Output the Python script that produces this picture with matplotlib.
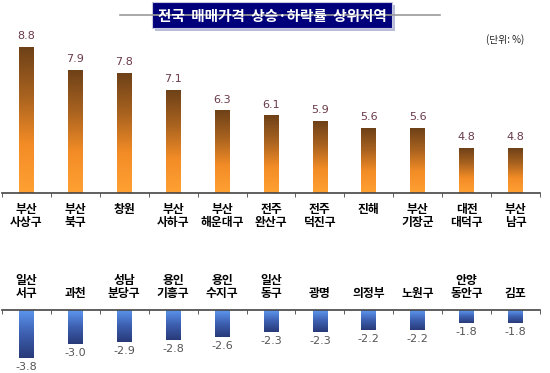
import matplotlib
matplotlib.use("Agg")
import matplotlib.pyplot as plt
import numpy as np
from matplotlib.colors import LinearSegmentedColormap
from matplotlib.patches import Rectangle

plt.rcParams['font.family'] = ['Noto Sans CJK KR', 'DejaVu Sans']

############### Data ################
up_regions = ["부산\n사상구", "부산\n북구", "창원", "부산\n사하구", "부산\n해운대구", "전주\n완산구",
              "전주\n덕진구", "진해", "부산\n기장군", "대전\n대덕구", "부산\n남구"]
up_values = [8.8, 7.9, 7.8, 7.1, 6.3, 6.1, 5.9, 5.6, 5.6, 4.8, 4.8]

down_regions = ["일산\n서구", "과천", "성남\n분당구", "용인\n기흥구", "용인\n수지구", "일산\n동구",
                "광명", "의정부", "노원구", "안양\n동안구", "김포"]
down_values = [-3.8, -3.0, -2.9, -2.8, -2.6, -2.3, -2.3, -2.2, -2.2, -1.8, -1.8]

brown_cmap = LinearSegmentedColormap.from_list("brown", ["#ffa133", "#f38c26", "#a8621f", "#6e4118"])
blue_cmap = LinearSegmentedColormap.from_list("blue", ["#283a78", "#3d5fb0", "#5d98f0"])


def gradient_bars(ax, bars, cmap):
    grad = np.linspace(0, 1, 256).reshape(-1, 1)
    lo, hi = ax.get_ylim()
    for b in bars:
        x0, y0 = b.get_x(), b.get_y()
        w, h = b.get_width(), b.get_height()
        ylo = max(min(y0, y0 + h), lo)
        yhi = min(max(y0, y0 + h), hi)
        ax.imshow(grad, cmap=cmap, aspect='auto', origin='lower',
                  extent=(x0, x0 + w, ylo, yhi), zorder=2)
        b.set_visible(False)


fig = plt.figure(figsize=(5.5, 3.73), dpi=100)

############### Title ################
fig.add_artist(plt.Line2D([120/550, 440/550], [1 - 15/373, 1 - 15/373],
                          color='#9a9a9a', lw=1.2, transform=fig.transFigure))
fig.add_artist(Rectangle((155/550, 1 - 31/373), 240/550, 26/373, transform=fig.transFigure,
                         facecolor='#b8bcd8', edgecolor='none'))
fig.add_artist(Rectangle((152/550, 1 - 28/373), 240/550, 26/373, transform=fig.transFigure,
                         facecolor='#00007a', edgecolor='#c8c8e0', lw=0.8))
fig.text(272/550, 1 - 15.5/373, "전국  매매가격  상승·하락률  상위지역", color='white',
         fontsize=10.5, fontweight='bold', ha='center', va='center')
fig.text(505/550, 1 - 40/373, "(단위: %)", fontsize=7, ha='center', va='center', color='#222222')

x = np.arange(len(up_regions))

############### Top chart ################
ax1 = fig.add_axes([2/550, 0.4826, 538/550, 0.4705])
bars1 = ax1.bar(x, up_values, width=0.3, bottom=0, edgecolor='none')
ax1.set_ylim(3.05, 10)
ax1.set_xlim(-0.5, len(up_regions) - 0.5)
gradient_bars(ax1, bars1, brown_cmap)
for xi, v in zip(x, up_values):
    ax1.text(xi, v + 0.25, f"{v:.1f}", ha='center', va='bottom', fontsize=8,
             color='#6a3a48', family='DejaVu Sans')
ax1.set_xticks(x, up_regions, fontsize=8.5, fontweight='bold', linespacing=1.05)
ax1.set_xticks(np.arange(len(up_regions) + 1) - 0.5, minor=True)
ax1.tick_params(axis='x', which='major', length=0, pad=7)
ax1.tick_params(axis='x', which='minor', length=3, direction='out', color='#444444')
ax1.set_yticks([])
for s in ['top', 'left', 'right']:
    ax1.spines[s].set_visible(False)
ax1.spines['bottom'].set_color('#444444')
ax1.spines['bottom'].set_linewidth(1.2)
ax1.spines['bottom'].set_zorder(3)

############### Bottom chart ################
ax2 = fig.add_axes([2/550, 0.0214, 538/550, 0.1475])
bars2 = ax2.bar(x, down_values, width=0.3, bottom=0, edgecolor='none')
ax2.set_ylim(-4.2, -1.06)
ax2.set_xlim(-0.5, len(down_regions) - 0.5)
gradient_bars(ax2, bars2, blue_cmap)
for xi, v in zip(x, down_values):
    ax2.text(xi, v - 0.22, f"{v:.1f}", ha='center', va='top', fontsize=8,
             color='#555555', family='DejaVu Sans', clip_on=False)
ax2.xaxis.tick_top()
ax2.set_xticks(x, down_regions, fontsize=8.5, fontweight='bold', linespacing=1.05)
ax2.set_xticks(np.arange(len(down_regions) + 1) - 0.5, minor=True)
ax2.tick_params(axis='x', which='major', length=0, pad=7)
ax2.tick_params(axis='x', which='minor', length=3, direction='in', color='#444444')
ax2.set_yticks([])
for s in ['bottom', 'left', 'right']:
    ax2.spines[s].set_visible(False)
ax2.spines['top'].set_color('#444444')
ax2.spines['top'].set_linewidth(1.2)
ax2.spines['top'].set_zorder(3)

fig.savefig("out.png", dpi=100)
